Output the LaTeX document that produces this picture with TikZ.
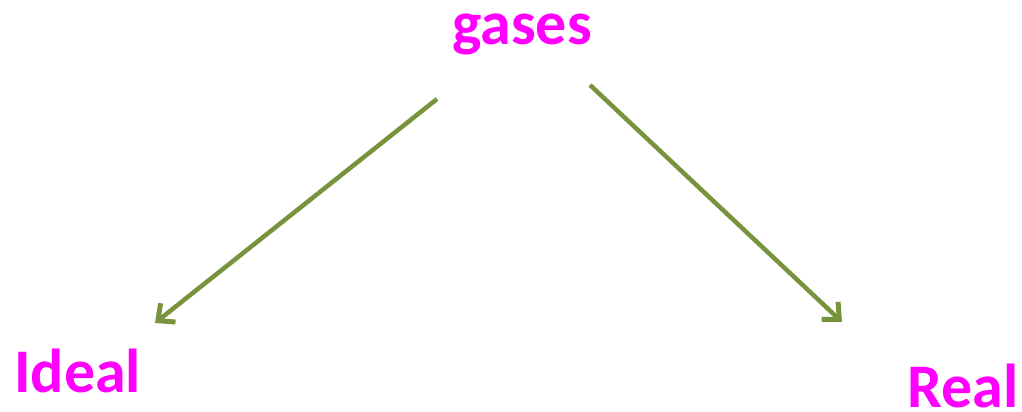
\documentclass[tikz,border=0pt]{standalone}
\usepackage{fontspec}
\setmainfont{Carlito}
\usetikzlibrary{arrows.meta}
\definecolor{lbl}{HTML}{FF00FF}
\definecolor{arrc}{HTML}{77933C}
\tikzset{
  lbltext/.style={text=lbl, inner sep=0pt, font=\fontsize{62}{70}\selectfont\bfseries},
  arr/.style={draw=arrc, line width=4.5pt, -{Straight Barb[length=13pt,width=24pt,line width=5pt]}}
}
\begin{document}
\begin{tikzpicture}[x=1pt,y=-1pt]
\useasboundingbox (0,0) rectangle (1022,412);
\node[lbltext, anchor=base] (gases) at (522,45) {gases};
\node[lbltext, anchor=base west] (ideal) at (14,392) {Ideal};
\node[lbltext, anchor=base west] (real) at (907,407) {Real};
\coordinate (s1) at (437,99);
\coordinate (e1) at (155,323);
\coordinate (s2) at (590,85);
\coordinate (e2) at (842,322);
\draw[arr] (s1) -- (e1);
\draw[arr] (s2) -- (e2);
\end{tikzpicture}
\end{document}
